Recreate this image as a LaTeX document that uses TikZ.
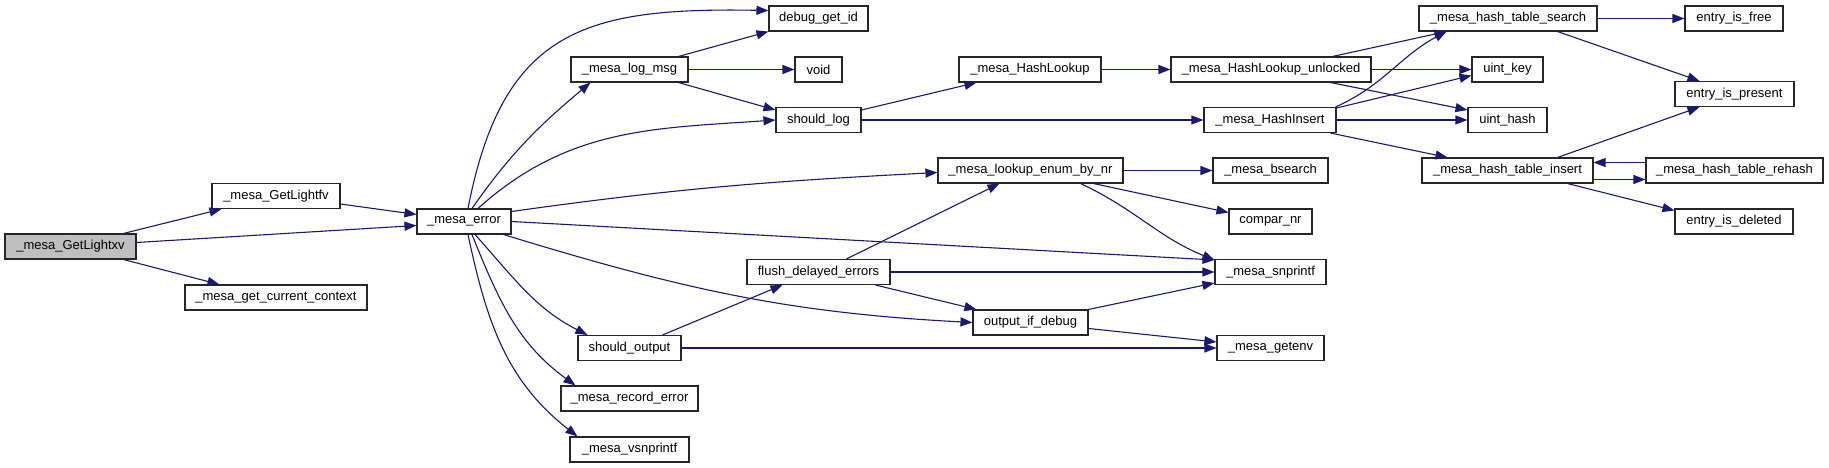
\documentclass[tikz,border=0pt]{standalone}
\usepackage{fontspec}
\usepackage{xcolor}
\usetikzlibrary{arrows.meta}
\newfontfamily\fnfont{Liberation Sans}
\definecolor{edgeblue}{RGB}{25,25,112}
\definecolor{boxgray}{RGB}{191,191,191}

\tikzset{
  fn/.style={draw=black!85, line width=1.1pt, fill=white, rectangle, inner sep=0pt,
    minimum height=25pt, font={\fnfont\fontsize{13pt}{15pt}\selectfont}},
  callarrow/.style={draw=edgeblue, line width=1.1pt, -{Triangle[length=12pt,width=9pt]}},
}

\begin{document}
\begin{tikzpicture}[x=1pt,y=1pt]
\useasboundingbox (0,0) rectangle (1829,-468);

% functions
\node[fn, fill=boxgray, minimum width=131pt] (GetLightxv) at (70.5,-246.5) {\_mesa\_GetLightxv};
\node[fn, minimum width=128pt] (GetLightfv) at (276,-196) {\_mesa\_GetLightfv};
\node[fn, minimum width=182pt] (curctx) at (276,-297.5) {\_mesa\_get\_current\_context};
\node[fn, minimum width=94pt] (error) at (464,-221.5) {\_mesa\_error};

\node[fn, minimum width=99pt] (debugid) at (818.5,-18.5) {debug\_get\_id};
\node[fn, minimum width=117pt] (logmsg) at (629.5,-69.5) {\_mesa\_log\_msg};
\node[fn, minimum width=47pt] (void) at (818.5,-69.5) {void};
\node[fn, minimum width=85pt] (shouldlog) at (818.5,-120) {should\_log};
\node[fn, minimum width=143pt] (flush) at (818.5,-272) {flush\_delayed\_errors};
\node[fn, minimum width=103pt] (shouldout) at (629.5,-348) {should\_output};
\node[fn, minimum width=137pt] (recerr) at (629.5,-398.5) {\_mesa\_record\_error};
\node[fn, minimum width=119pt] (vsnprintf) at (629.5,-449.5) {\_mesa\_vsnprintf};

\node[fn, minimum width=142pt] (lookup) at (1030,-69.5) {\_mesa\_HashLookup};
\node[fn, minimum width=185pt] (enumnr) at (1030.5,-170.5) {\_mesa\_lookup\_enum\_by\_nr};
\node[fn, minimum width=115pt] (outdebug) at (1030.5,-322.5) {output\_if\_debug};

\node[fn, minimum width=200pt] (unlocked) at (1271,-69.5) {\_mesa\_HashLookup\_unlocked};
\node[fn, minimum width=132pt] (insert) at (1270,-120) {\_mesa\_HashInsert};
\node[fn, minimum width=115pt] (bsearch) at (1270.5,-170.5) {\_mesa\_bsearch};
\node[fn, minimum width=83pt] (compar) at (1270.5,-221.5) {compar\_nr};
\node[fn, minimum width=111pt] (snprintf) at (1270.5,-272) {\_mesa\_snprintf};
\node[fn, minimum width=107pt] (getenv) at (1270.5,-348) {\_mesa\_getenv};

\node[fn, minimum width=178pt] (tsearch) at (1508,-18.5) {\_mesa\_hash\_table\_search};
\node[fn, minimum width=71pt] (uintkey) at (1507.5,-69.5) {uint\_key};
\node[fn, minimum width=79pt] (uinthash) at (1507.5,-120) {uint\_hash};
\node[fn, minimum width=171pt] (tinsert) at (1507.5,-170.5) {\_mesa\_hash\_table\_insert};

\node[fn, minimum width=98pt] (isfree) at (1734,-18.5) {entry\_is\_free};
\node[fn, minimum width=119pt] (ispresent) at (1734.5,-94) {entry\_is\_present};
\node[fn, minimum width=177pt] (rehash) at (1734.5,-170.5) {\_mesa\_hash\_table\_rehash};
\node[fn, minimum width=118pt] (isdeleted) at (1734,-221.5) {entry\_is\_deleted};

% calls
\draw[callarrow] ([xshift=-13pt]GetLightxv.north east) -- ([xshift=10pt]GetLightfv.south west);
\draw[callarrow] ([yshift=4pt]GetLightxv.east) -- ([yshift=-4pt]error.west);
\draw[callarrow] ([xshift=-13pt]GetLightxv.south east) -- ([xshift=35pt]curctx.north west);
\draw[callarrow] ([yshift=-8pt]GetLightfv.east) -- ([yshift=7pt]error.west);

\draw[callarrow] ([xshift=4pt]error.north) to[out=79,in=179,looseness=1.3] ([yshift=8pt]debugid.west);
\draw[callarrow] ([xshift=8pt]error.north) to[out=55,in=-140] ([xshift=20pt]logmsg.south west);
\draw[callarrow] ([xshift=14pt]error.north) to[out=42,in=184] (shouldlog.west);
\draw[callarrow] ([yshift=10pt]error.east) to[out=8,in=183] ([yshift=-2pt]enumnr.west);
\draw[callarrow] (error.east) -- ([yshift=12pt]snprintf.west);
\draw[callarrow] ([xshift=-8pt]error.south east) to[out=-17,in=177] (outdebug.west);
\draw[callarrow] ([xshift=11pt]error.south) to[out=-48,in=153] ([xshift=10pt]shouldout.north west);
\draw[callarrow] ([xshift=8pt]error.south) to[out=-68,in=144] ([xshift=15pt]recerr.north west);
\draw[callarrow] ([xshift=4pt]error.south) to[out=-78,in=142] ([xshift=8pt]vsnprintf.north west);

\draw[callarrow] ([xshift=-10pt]logmsg.north east) -- (debugid.south west);
\draw[callarrow] (logmsg.east) -- (void.west);
\draw[callarrow] ([xshift=-10pt]logmsg.south east) -- ([yshift=10pt]shouldlog.west);

\draw[callarrow] ([yshift=10pt]shouldlog.east) -- ([xshift=18pt]lookup.south west);
\draw[callarrow] (shouldlog.east) -- (insert.west);
\draw[callarrow] (lookup.east) -- (unlocked.west);

\draw[callarrow] ([xshift=-39pt]unlocked.north east) -- ([xshift=28pt]tsearch.south west);
\draw[callarrow] (unlocked.east) -- (uintkey.west);
\draw[callarrow] ([xshift=-41pt]unlocked.south east) -- ([yshift=10pt]uinthash.west);

\draw[callarrow] ([xshift=-1pt]insert.north east) to[out=24,in=-152] ([xshift=28pt]tsearch.south west);
\draw[callarrow] ([yshift=12pt]insert.east) -- ([yshift=-6pt]uintkey.west);
\draw[callarrow] (insert.east) -- (uinthash.west);
\draw[callarrow] ([xshift=-6pt]insert.south east) -- ([xshift=26pt]tinsert.north west);

\draw[callarrow] (tsearch.east) -- (isfree.west);
\draw[callarrow] ([xshift=-40pt]tsearch.south east) -- ([xshift=25pt]ispresent.north west);
\draw[callarrow] ([xshift=-36pt]tinsert.north east) -- ([xshift=25pt]ispresent.south west);
\draw[callarrow] ([yshift=8pt]rehash.west) -- ([yshift=8pt]tinsert.east);
\draw[callarrow] ([yshift=-9pt]tinsert.east) -- ([yshift=-9pt]rehash.west);
\draw[callarrow] ([xshift=-26pt]tinsert.south east) -- ([yshift=11pt]isdeleted.west);

\draw[callarrow] (enumnr.east) -- (bsearch.west);
\draw[callarrow] ([xshift=-30pt]enumnr.south east) -- ([yshift=9pt]compar.west);
\draw[callarrow] ([xshift=-43pt]enumnr.south east) to[out=-25,in=158] ([yshift=12pt]snprintf.west);

\draw[callarrow] ([xshift=100pt]flush.north west) -- ([xshift=62pt]enumnr.south west);
\draw[callarrow] (flush.east) -- (snprintf.west);
\draw[callarrow] ([xshift=-15pt]flush.south east) -- ([xshift=4pt]outdebug.north west);

\draw[callarrow] ([xshift=-19pt]shouldout.north east) -- ([xshift=36pt]flush.south west);
\draw[callarrow] (shouldout.east) -- (getenv.west);

\draw[callarrow] (outdebug.north east) -- ([yshift=-11pt]snprintf.west);
\draw[callarrow] ([yshift=-6pt]outdebug.east) -- ([yshift=6pt]getenv.west);
\end{tikzpicture}
\end{document}
